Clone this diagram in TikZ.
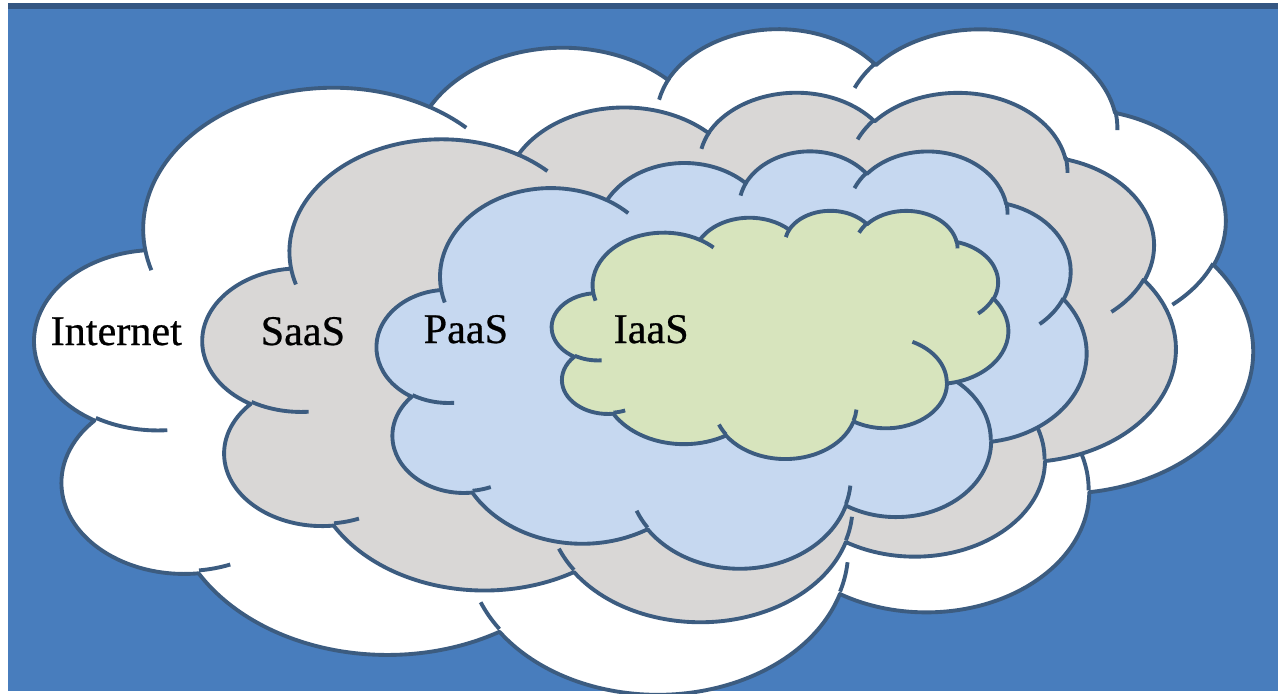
\documentclass[tikz,border=0pt]{standalone}
\usepackage{fontspec}
\setmainfont{Liberation Serif}
\newfontfamily\lblfont{Liberation Serif}[FakeBold=0.6]
\usepackage{tikz}
\definecolor{bgblue}{RGB}{72,125,189}
\definecolor{edgeblue}{RGB}{52,86,130}
\definecolor{puffedge}{RGB}{60,92,128}
\definecolor{saasgray}{RGB}{217,215,214}
\definecolor{paasblue}{RGB}{198,216,240}
\definecolor{iaasgreen}{RGB}{215,228,189}
\tikzset{declare function={ela(\rw,\rh,\ra)=atan2(\rw*sin(\ra),\rh*cos(\ra));
    elb(\rw,\rh,\ra,\rs)=ela(\rw,\rh,\ra)+\rs+mod(ela(\rw,\rh,\ra+\rs)-ela(\rw,\rh,\ra)-\rs+540,360)-180;},
  puffline/.style={draw=puffedge,line width=1.1pt,line join=round},
  lbl/.style={anchor=base west,inner sep=0pt,font=\lblfont\fontsize{12}{14}\selectfont}}
% cloud outline in a 43.2 x 43.2 box: x0, y0, width, height, fill
\newcommand{\drawcloud}[5]{%
  \begin{scope}[shift={(#1,#2)},x=1cm,y=1cm,xscale=#3/4320,yscale=-#4/4320]
    \path[puffline,fill=#5] (3.9,14.37)
      \foreach \rx/\ry/\st/\sw in {6.753/9.190/-190.487/123.781,5.333/7.267/-144.102/89.945,
        4.365/5.945/-145.808/99.723,4.857/6.595/-130.986/117.242,5.333/7.273/-78.709/109.027,
        6.775/9.220/-46.267/130.269,5.785/7.867/0.625/114.033,6.752/9.215/22.452/115.173,
        7.720/10.543/66.243/75.711,4.360/5.918/-274.942/146.736,4.345/5.945/-246.829/152.519}
      {arc[start angle={ela(\rx,\ry,\st)},end angle={elb(\rx,\ry,\st,\sw)},x radius=\rx,y radius=\ry]} -- cycle;
    \foreach \px/\py/\rx/\ry/\st/\sw in {4.693/26.177/4.345/5.945/86.742/26.430,
        6.928/34.899/4.360/5.918/73.610/11.447,16.478/39.090/6.752/9.215/137.624/14.081,
        28.827/34.751/6.752/9.215/6.453/15.998,34.129/22.954/5.785/7.867/-70.292/70.917,
        41.798/15.354/5.333/7.273/30.318/27.752,38.324/5.426/4.857/6.595/-13.744/14.859,
        29.078/3.952/4.857/6.595/-149.181/18.195,22.141/4.720/4.365/5.945/-163.494/17.686,
        14.000/5.192/6.753/9.190/-66.707/12.319,4.127/15.789/6.753/9.190/157.654/11.858}
      \draw[puffline] (\px,\py) arc[start angle={ela(\rx,\ry,\st)},end angle={elb(\rx,\ry,\st,\sw)},x radius=\rx,y radius=\ry];
  \end{scope}}

\begin{document}
\begin{tikzpicture}[x=0.01cm,y=-0.01cm]
  \useasboundingbox (0,0) rectangle (1278,694);
  \fill[bgblue] (8,5) rectangle (1278,691);
  \draw[edgeblue,line width=1.5pt] (8,6) -- (1278,6);
  % the four clouds, outer to inner
  \drawcloud{35}{27}{1217}{665}{white}
  \drawcloud{203}{91}{972}{529}{saasgray}
  \drawcloud{377}{150}{709}{417}{paasblue}
  \drawcloud{552}{210}{456}{248}{iaasgreen}
  \node[lbl] (internet) at (50,345) {Internet};
  \node[lbl] (saas) at (260,345) {SaaS};
  \node[lbl] (paas) at (423,343) {PaaS};
  \node[lbl] (iaas) at (613,343) {IaaS};
\end{tikzpicture}
\end{document}
